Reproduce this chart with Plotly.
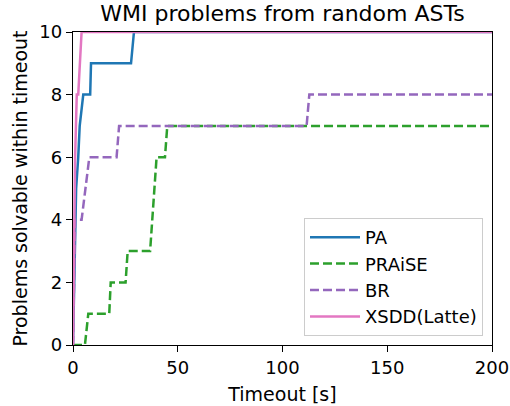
import plotly.graph_objects as go

# Data (timeout [s] vs problems solved)
pa_x = [0, 1.5, 2.5, 3.2, 4.9, 8.2, 8.6, 27.7, 29.1, 200]
pa_y = [0, 5, 6, 7, 8, 8, 9, 9, 10, 10]

praise_x = [0, 5.7, 7.3, 17.3, 18.0, 25.1, 26.1, 36.8, 39.9, 43.9, 45.0, 200]
praise_y = [0, 0, 1, 1, 2, 2, 3, 3, 6, 6, 7, 7]

br_x = [0, 1.0, 4.1, 7.8, 20.8, 22.0, 111.5, 112.8, 200]
br_y = [0, 4, 4, 6, 6, 7, 7, 8, 8]

xsdd_x = [0, 1.0, 1.8, 2.5, 4.1, 200]
xsdd_y = [0, 6, 8, 8, 10, 10]

x_ticks = [0, 50, 100, 150, 200]
y_ticks = [0, 2, 4, 6, 8, 10]

FONT = "DejaVu Sans"
LW = 2.5
DASH = "9px,4px"

fig = go.Figure()
fig.add_trace(go.Scatter(x=pa_x, y=pa_y, mode="lines", name="PA",
                         line=dict(color="#1f77b4", width=LW)))
fig.add_trace(go.Scatter(x=praise_x, y=praise_y, mode="lines", name="PRAiSE",
                         line=dict(color="#2ca02c", width=LW, dash=DASH)))
fig.add_trace(go.Scatter(x=br_x, y=br_y, mode="lines", name="BR",
                         line=dict(color="#9467bd", width=LW, dash=DASH)))
fig.add_trace(go.Scatter(x=xsdd_x, y=xsdd_y, mode="lines", name="XSDD(Latte)",
                         line=dict(color="#e377c2", width=LW)))

axis_common = dict(
    showgrid=False, zeroline=False, showline=True, linecolor="black",
    linewidth=1.3, mirror=True, ticks="outside", ticklen=6, tickwidth=1.3,
    tickcolor="black", tickfont=dict(family=FONT, size=18, color="black"),
    automargin=False,
)

fig.update_layout(
    width=510, height=406,
    margin=dict(l=73, r=18, t=32, b=61),
    paper_bgcolor="white", plot_bgcolor="white",
    font=dict(family=FONT, color="black"),
    title=dict(text="WMI problems from random ASTs", x=(73 + 492) / 2 / 510,
               xanchor="center", y=1 - 13 / 406, yanchor="middle",
               font=dict(family=FONT, size=22, color="black")),
    xaxis=dict(range=[0, 200], tickvals=x_ticks,
               title=dict(text="Timeout [s]", font=dict(family=FONT, size=19), standoff=10),
               **axis_common),
    yaxis=dict(range=[0, 10], tickvals=y_ticks,
               title=dict(text="Problems solvable within timeout", font=dict(family=FONT, size=19), standoff=6),
               **axis_common),
    legend=dict(x=(483 - 73) / 419, y=(345 - 336) / 313, xanchor="right", yanchor="bottom",
                bgcolor="rgba(255,255,255,0.8)", bordercolor="#cccccc", borderwidth=1,
                itemwidth=50,
                font=dict(family=FONT, size=18, color="black")),
    showlegend=True,
)

fig.write_html("out.html", config={"displayModeBar": False},
               post_script="document.body.style.margin='0';")
